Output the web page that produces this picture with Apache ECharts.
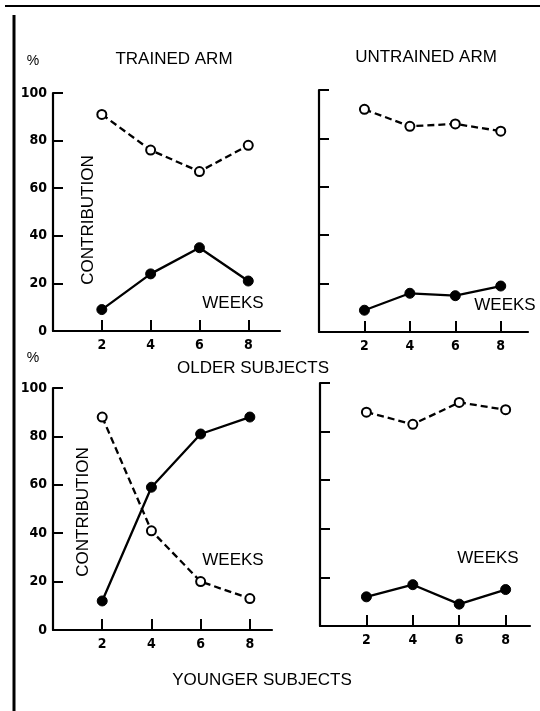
<!DOCTYPE html>
<html>
<head>
<meta charset="utf-8">
<script src="https://cdn.jsdelivr.net/npm/echarts@6/dist/echarts.min.js"></script>
<style>
html,body{margin:0;padding:0;background:#fff;}
#chart{width:540px;height:711px;}
</style>
</head>
<body>
<div id="chart"></div>
<script>
// ---- data ----
var weeks = [2, 4, 6, 8];
var yTicks = [0, 20, 40, 60, 80, 100];
var olderTrainedOpen = [91, 76, 67, 78];
var olderTrainedFilled = [9, 24, 35, 21];
var olderUntrainedOpen = [92, 85, 86, 83];
var olderUntrainedFilled = [9, 16, 15, 19];
var youngerTrainedOpen = [88, 41, 20, 13];
var youngerTrainedFilled = [12, 59, 81, 88];
var youngerUntrainedOpen = [88, 83, 92, 89];
var youngerUntrainedFilled = [12, 17, 9, 15];

function pairs(xs, ys) { return xs.map(function (x, i) { return [x, ys[i]]; }); }

var TXT = 'Liberation Sans, Arial, sans-serif';
var NUM = 'DejaVu Sans Condensed, Liberation Sans Narrow, Arial Narrow, sans-serif';

var grids = [
  { left: 53, top: 93, width: 227, height: 238, xmax: 9.3, ylabels: true },
  { left: 319, top: 90, width: 209, height: 242, xmax: 9.2, ylabels: false },
  { left: 53, top: 388, width: 219, height: 242, xmax: 8.9, ylabels: true },
  { left: 320, top: 383, width: 210, height: 243, xmax: 9.05, ylabels: false }
];

var axisLine = { show: true, lineStyle: { color: '#000', width: 2.2 } };

var option = {
  backgroundColor: '#fff',
  animation: false,
  grid: grids.map(function (g) {
    return { left: g.left, top: g.top, width: g.width, height: g.height, containLabel: false };
  }),
  xAxis: grids.map(function (g, i) {
    return {
      type: 'value', gridIndex: i, min: 0, max: g.xmax,
      axisLine: axisLine,
      splitLine: { show: false },
      axisTick: { show: true, inside: true, length: 11, customValues: weeks, lineStyle: { color: '#000', width: 2 } },
      axisLabel: { show: true, customValues: weeks, margin: 7, color: '#000', fontFamily: NUM, fontWeight: 'bold', fontSize: 14 }
    };
  }),
  yAxis: grids.map(function (g, i) {
    return {
      type: 'value', gridIndex: i, min: 0, max: 100, interval: 20,
      axisLine: axisLine,
      splitLine: { show: false },
      axisTick: { show: true, inside: true, length: 10, customValues: yTicks.slice(1), lineStyle: { color: '#000', width: 2 } },
      axisLabel: { show: g.ylabels, margin: 6, color: '#000', fontFamily: NUM, fontWeight: 'bold', fontSize: 14 }
    };
  }),
  series: [],
  graphic: []
};

var sets = [
  [olderTrainedOpen, olderTrainedFilled],
  [olderUntrainedOpen, olderUntrainedFilled],
  [youngerTrainedOpen, youngerTrainedFilled],
  [youngerUntrainedOpen, youngerUntrainedFilled]
];
sets.forEach(function (s, i) {
  option.series.push({
    type: 'line', xAxisIndex: i, yAxisIndex: i, data: pairs(weeks, s[0]),
    symbol: 'circle', symbolSize: 9,
    lineStyle: { color: '#000', width: 2.3, type: [7, 4] },
    itemStyle: { color: '#fff', borderColor: '#000', borderWidth: 2 },
    z: 3
  });
  option.series.push({
    type: 'line', xAxisIndex: i, yAxisIndex: i, data: pairs(weeks, s[1]),
    symbol: 'circle', symbolSize: 10,
    lineStyle: { color: '#000', width: 2.3 },
    itemStyle: { color: '#000', borderColor: '#000', borderWidth: 1 },
    z: 3
  });
});

function txt(x, y, s, size, rot) {
  return {
    type: 'text', x: x, y: y, rotation: rot || 0,
    style: { text: s, fill: '#000', font: (size || 17) + 'px ' + TXT, textAlign: 'center', textVerticalAlign: 'middle' },
    z: 10
  };
}

option.graphic = [
  { type: 'line', shape: { x1: 5, y1: 6, x2: 540, y2: 6 }, style: { stroke: '#000', lineWidth: 2 } },
  { type: 'line', shape: { x1: 14, y1: 15, x2: 14, y2: 711 }, style: { stroke: '#000', lineWidth: 3 } },
  txt(33, 61, '%', 14),
  txt(174, 59, 'TRAINED ARM'),
  txt(426, 57, 'UNTRAINED ARM'),
  txt(88, 220, 'CONTRIBUTION', 17, Math.PI / 2),
  txt(233, 303, 'WEEKS'),
  txt(505, 305, 'WEEKS'),
  txt(33, 358, '%', 14),
  txt(253, 368, 'OLDER SUBJECTS'),
  txt(83, 512, 'CONTRIBUTION', 17, Math.PI / 2),
  txt(233, 560, 'WEEKS'),
  txt(488, 558, 'WEEKS'),
  txt(262, 680, 'YOUNGER SUBJECTS')
];

var chart = echarts.init(document.getElementById('chart'), null, { renderer: 'canvas' });
chart.setOption(option);
</script>
</body>
</html>
